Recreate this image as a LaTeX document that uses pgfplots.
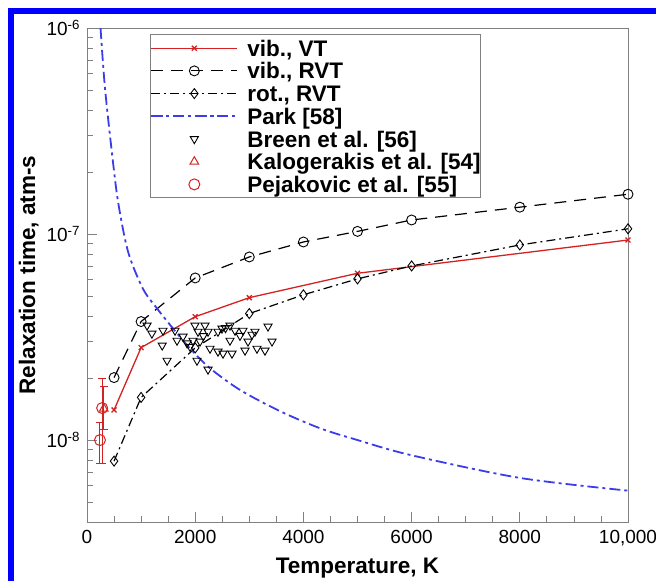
\documentclass[border=0pt]{standalone}
\usepackage{fontspec}
\setmainfont{Liberation Sans}
\usepackage{pgfplots}
\pgfplotsset{compat=1.18}

\definecolor{vtred}{RGB}{212,34,34}
\definecolor{parkblue}{RGB}{60,60,232}
\definecolor{framegray}{RGB}{128,128,128}

\pgfplotsset{
  markonly legend/.style={
    legend image code/.code={
      \draw[##1] plot[only marks] coordinates {(43pt,0pt)};
      \path[draw=none, fill=none] (0pt,0pt) -- (96pt,0pt);
    }
  }
}

\begin{document}
\begin{tikzpicture}[x=1pt,y=1pt]
\useasboundingbox (0,0) rectangle (656,581);
% page frame
\fill[blue] (8,0) rectangle (14,573);
\fill[blue] (8,567) rectangle (656,573);
\begin{axis}[
  at={(87pt,59pt)}, anchor=south west,
  scale only axis, width=541pt, height=494pt,
  xmin=0, xmax=10000,
  ymode=log, ymin=4e-9, ymax=1e-6,
  scaled x ticks=false,
  xtick={0,2000,4000,6000,8000,10000},
  xticklabels={0,2000,4000,6000,8000,{10,000}},
  minor xtick={500,1000,...,9500},
  ytick={1e-8,1e-7,1e-6},
  yticklabels={10\textsuperscript{-8},10\textsuperscript{-7},10\textsuperscript{-6}},
  minor ytick={5e-9,6e-9,7e-9,8e-9,9e-9,2e-8,3e-8,4e-8,5e-8,6e-8,7e-8,8e-8,9e-8,2e-7,3e-7,4e-7,5e-7,6e-7,7e-7,8e-7,9e-7},
  tick align=inside, xtick pos=bottom, ytick pos=left,
  major tick length=10pt, minor tick length=6pt,
  every tick/.style={framegray, line width=0.8pt},
  axis line style={framegray, line width=0.8pt},
  ticklabel style={font=\fontsize{19}{20}\selectfont},
  xticklabel style={yshift=-4.5pt},
  yticklabel style={xshift=-3.5pt},
  xlabel={Temperature, K},
  ylabel={Relaxation time, atm-s},
  label style={font=\fontsize{22.5}{24}\selectfont\bfseries},
  xlabel style={at={(axis description cs:0.5,-0.1032)}, anchor=base},
  ylabel style={at={(axis description cs:-0.0961,0.5)}, anchor=base},
  legend cell align=left,
  legend image code/.code={
    \draw[mark repeat=2,mark phase=2,#1] plot coordinates {(0pt,0pt) (43pt,0pt) (86pt,0pt)};
    \path[draw=none, fill=none] (0pt,0pt) -- (96pt,0pt);
  },
  legend style={at={(rel axis cs:0.1165,0.987)}, anchor=north west,
    draw=framegray, line width=0.8pt, fill=white,
    font=\fontsize{22.5}{24}\selectfont\bfseries,
    inner xsep=0pt, inner ysep=2pt, row sep=0pt,
    nodes={inner xsep=0pt, inner ysep=0pt, text height=19.4pt, text depth=3.3pt}},
]

% vibrational relaxation, VT model
\addplot[vtred, line width=1.3pt, mark=x, mark size=3.5pt, mark options={solid}]
  coordinates {(500,1.40e-8) (1000,2.81e-8) (2000,3.97e-8) (3000,4.91e-8) (5000,6.45e-8) (10000,9.35e-8)};
\addlegendentry{vib., VT}

% vibrational relaxation, RVT model
\addplot[black, line width=1.2pt, dash pattern=on 12pt off 8pt, mark=o, mark size=5pt, mark options={solid, line width=0.9pt}]
  coordinates {(500,2.01e-8) (1000,3.76e-8) (2000,6.12e-8) (3000,7.74e-8) (4000,9.15e-8) (5000,1.03e-7) (6000,1.17e-7) (8000,1.35e-7) (10000,1.56e-7)};
\addlegendentry{vib., RVT}

% rotational relaxation, RVT model
\addplot[black, line width=1.2pt, dash pattern=on 9pt off 4pt on 2pt off 4pt, mark=diamond, mark size=5pt, mark options={solid, line width=0.9pt}]
  coordinates {(500,7.9e-9) (1000,1.61e-8) (2000,2.8e-8) (3000,4.11e-8) (4000,5.07e-8) (5000,6.06e-8) (6000,7.0e-8) (8000,8.85e-8) (10000,1.06e-7)};
\addlegendentry{rot., RVT}

% Park correlation
\addplot[parkblue, line width=1.8pt, dash pattern=on 11pt off 4pt on 3pt off 4pt, smooth]
  coordinates {(250,1.0e-6) (330,5.19e-7) (460,2.49e-7) (575,1.43e-7) (760,8.19e-8) (1035,5.42e-8) (1295,4.35e-8) (1590,3.48e-8) (1905,2.78e-8) (2275,2.23e-8) (2830,1.75e-8) (3570,1.38e-8) (4310,1.14e-8) (5000,1.0e-8) (5970,8.47e-9) (8000,6.55e-9) (10000,5.68e-9)};
\addlegendentry{Park [58]}

% shock-tube measurements
\addplot[only marks, markonly legend, black, mark=triangle, mark size=4.7pt, mark options={rotate=180, line width=0.9pt}]
  coordinates {
  (1110,3.6e-8) (1200,3.29e-8) (1405,3.40e-8) (1390,2.88e-8) (1480,2.43e-8)
  (1627,3.40e-8) (1664,3.04e-8) (1775,3.18e-8) (1850,2.95e-8) (1904,2.84e-8)
  (1959,3.04e-8) (1996,3.60e-8) (2052,3.36e-8) (2089,3.01e-8) (2150,3.20e-8)
  (2181,3.60e-8) (2237,3.36e-8) (2274,2.78e-8) (2421,3.36e-8) (2421,2.69e-8)
  (2495,3.48e-8) (2514,2.63e-8) (2560,3.50e-8) (2643,3.60e-8) (2643,3.04e-8)
  (2680,2.63e-8) (2736,3.40e-8) (2828,3.21e-8) (2884,3.40e-8) (2921,2.72e-8)
  (2976,3.01e-8) (3050,3.25e-8) (3105,3.36e-8) (3142,2.78e-8) (3290,2.72e-8)
  (3346,3.56e-8) (3420,3.01e-8) (2033,2.43e-8) (2237,2.20e-8)};
\addlegendentry{Breen et al. [56]}

\addplot[only marks, markonly legend, vtred, mark=triangle, mark size=5pt, mark options={line width=1pt},
  error bars/.cd, y dir=both, y explicit,
  error bar style={vtred, line width=1pt},
  error mark options={vtred, mark size=4pt, line width=1pt, rotate=90}]
  coordinates {(310,1.42e-8) += (0,4e-9) -= (0,3e-9)};
\addlegendentry{Kalogerakis et al. [54]}

\addplot[only marks, markonly legend, vtred, mark=o, mark size=5.5pt, mark options={line width=1pt},
  error bars/.cd, y dir=both, y explicit,
  error bar style={vtred, line width=1pt},
  error mark options={vtred, mark size=4pt, line width=1pt, rotate=90}]
  coordinates {(240,1.0e-8) += (0,2.1e-9) -= (0,2.3e-9) (280,1.43e-8) += (0,5.7e-9) -= (0,6.6e-9)};
\addlegendentry{Pejakovic et al. [55]}

\end{axis}
\end{tikzpicture}
\end{document}
